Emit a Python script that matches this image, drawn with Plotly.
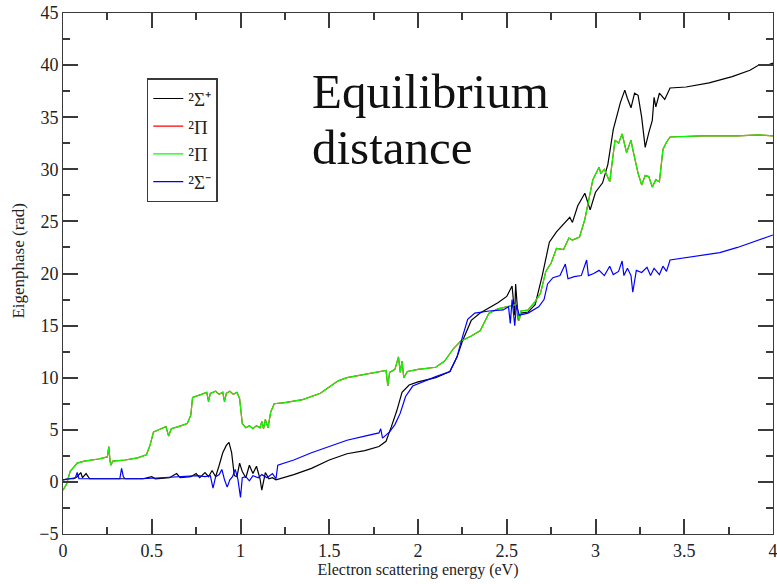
import plotly.graph_objects as go

# Eigenphase sums (rad) versus electron scattering energy (eV) for each symmetry

# 2Sigma+ symmetry
sig_plus_e = [0.00, 0.03, 0.06, 0.08, 0.10, 0.11, 0.13, 0.15, 0.20, 0.30, 0.40, 0.45, 0.50, 0.52,
              0.60, 0.64, 0.66, 0.72, 0.75, 0.77, 0.80, 0.82, 0.84, 0.86, 0.88, 0.90, 0.92, 0.935,
              0.95, 0.965, 0.98, 0.995, 1.01, 1.03, 1.05, 1.07, 1.09, 1.11, 1.12, 1.14, 1.16, 1.18,
              1.20, 1.30, 1.40, 1.50, 1.60, 1.70, 1.78, 1.82, 1.85, 1.88, 1.91, 1.95, 2.00, 2.10,
              2.18, 2.22, 2.25, 2.30, 2.35, 2.40, 2.45, 2.50, 2.53, 2.545, 2.55, 2.565, 2.58, 2.62,
              2.66, 2.70, 2.74, 2.78, 2.82, 2.855, 2.87, 2.90, 2.94, 2.97, 3.00, 3.04, 3.07, 3.10,
              3.14, 3.165, 3.18, 3.20, 3.22, 3.24, 3.26, 3.28, 3.30, 3.32, 3.33, 3.34, 3.36, 3.39,
              3.42, 3.51, 3.64, 3.77, 3.87, 3.92, 3.97, 4.00]
sig_plus_phase = [0.2, 0.3, 0.3, 0.5, 0.9, 0.4, 0.8, 0.3, 0.3, 0.3, 0.3, 0.3, 0.5, 0.3,
                  0.4, 0.8, 0.4, 0.5, 0.8, 0.4, 0.9, 0.5, 1.1, 0.5, 1.6, 2.8, 3.5, 3.8,
                  2.8, 0.6, 0.5, 1.8, 1.0, 0.4, 1.6, 0.8, 1.5, 0.3, -0.8, 0.9, 0.3, 0.4,
                  0.2, 0.7, 1.3, 2.1, 2.7, 3.0, 3.4, 3.9, 5.3, 6.8, 8.6, 9.3, 9.6, 10.0,
                  10.6, 12.0, 13.5, 15.5, 16.2, 16.7, 17.2, 17.8, 18.8, 16.0, 19.0, 15.5, 16.2, 16.3,
                  17.0, 19.8, 23.0, 24.0, 24.8, 25.4, 24.9, 26.5, 27.7, 26.1, 27.8, 28.7, 30.5, 33.8,
                  36.4, 37.6, 36.8, 35.9, 37.3, 37.1, 35.0, 32.1, 33.5, 34.7, 36.9, 36.0, 37.3, 36.7,
                  37.8, 37.9, 38.3, 38.9, 39.5, 40.0, 40.0, 40.2]

# 2Pi symmetry (both components coincide over the whole range)
pi_e = [0.00, 0.02, 0.04, 0.06, 0.08, 0.12, 0.20, 0.25, 0.258, 0.265, 0.27, 0.28, 0.35, 0.42,
        0.47, 0.49, 0.51, 0.54, 0.58, 0.595, 0.61, 0.65, 0.70, 0.72, 0.73, 0.78, 0.81, 0.82,
        0.83, 0.86, 0.88, 0.90, 0.91, 0.92, 0.94, 0.96, 0.98, 0.995, 1.01, 1.03, 1.05, 1.07,
        1.09, 1.11, 1.12, 1.13, 1.14, 1.155, 1.17, 1.19, 1.25, 1.35, 1.45, 1.50, 1.55, 1.60,
        1.70, 1.80, 1.82, 1.83, 1.84, 1.87, 1.89, 1.90, 1.91, 1.92, 1.94, 2.00, 2.10, 2.15,
        2.20, 2.24, 2.30, 2.35, 2.40, 2.45, 2.50, 2.55, 2.56, 2.57, 2.58, 2.62, 2.66, 2.69,
        2.72, 2.75, 2.78, 2.82, 2.85, 2.87, 2.91, 2.94, 2.985, 3.02, 3.03, 3.05, 3.08, 3.11,
        3.13, 3.15, 3.175, 3.20, 3.21, 3.24, 3.26, 3.28, 3.30, 3.32, 3.34, 3.36, 3.38, 3.40,
        3.42, 3.60, 3.80, 3.92, 4.00]
pi_phase_1 = [-0.8, -0.2, 1.0, 1.4, 1.8, 2.0, 2.2, 2.4, 3.4, 2.0, 1.6, 2.0, 2.1, 2.3,
              2.6, 3.5, 4.8, 5.0, 5.3, 4.4, 5.1, 5.3, 5.6, 6.4, 8.1, 8.4, 8.6, 7.7,
              8.5, 8.7, 8.4, 8.6, 7.7, 8.5, 8.7, 8.4, 8.6, 8.0, 5.6, 5.2, 5.4, 5.1,
              5.4, 5.2, 5.8, 5.1, 6.0, 5.2, 6.7, 7.5, 7.6, 7.9, 8.5, 9.1, 9.7, 10.0,
              10.3, 10.6, 10.7, 9.2, 10.5, 10.8, 12.0, 10.5, 11.6, 10.0, 10.6, 10.8, 11.0, 11.6,
              12.8, 13.5, 14.0, 14.5, 16.2, 16.6, 16.8, 17.0, 16.5, 15.5, 16.4, 16.5, 17.3, 18.1,
              20.2, 21.0, 22.4, 22.3, 23.4, 23.2, 23.5, 25.2, 29.0, 30.2, 29.6, 30.0, 28.8, 32.8,
              32.5, 33.4, 31.6, 32.8, 31.9, 29.6, 28.5, 29.4, 29.3, 28.3, 29.0, 28.8, 31.9, 32.6,
              33.1, 33.2, 33.2, 33.3, 33.2]
pi_phase_2 = list(pi_phase_1)

# 2Sigma- symmetry
sig_minus_e = [0.00, 0.05, 0.07, 0.08, 0.09, 0.15, 0.25, 0.32, 0.33, 0.34, 0.35, 0.45, 0.55, 0.65,
               0.70, 0.76, 0.80, 0.83, 0.845, 0.86, 0.88, 0.895, 0.91, 0.925, 0.94, 0.955, 0.97,
               0.985, 1.00, 1.01, 1.03, 1.05, 1.07, 1.10, 1.12, 1.15, 1.18, 1.20, 1.21, 1.30, 1.40,
               1.50, 1.60, 1.70, 1.78, 1.79, 1.80, 1.84, 1.87, 1.90, 1.93, 1.97, 2.01, 2.10, 2.18,
               2.22, 2.25, 2.28, 2.32, 2.40, 2.48, 2.51, 2.52, 2.53, 2.545, 2.555, 2.57, 2.62, 2.68,
               2.71, 2.73, 2.76, 2.80, 2.83, 2.845, 2.88, 2.92, 2.95, 2.96, 2.99, 3.02, 3.05, 3.08,
               3.10, 3.13, 3.15, 3.16, 3.18, 3.20, 3.21, 3.23, 3.26, 3.29, 3.31, 3.33, 3.36, 3.38,
               3.40, 3.42, 3.50, 3.60, 3.70, 3.80, 3.90, 4.00]
sig_minus_phase = [0.2, 0.3, 0.4, 0.9, 0.3, 0.3, 0.3, 0.3, 1.3, 0.5, 0.3, 0.3, 0.4, 0.5,
                   0.5, 0.6, 0.5, 0.6, -0.6, 0.5, 0.7, 1.2, 0.2, -0.5, 0.2, 0.5, 1.2,
                   0.3, -1.5, 0.4, 0.5, 0.1, 0.6, 0.4, 0.7, 0.4, 0.8, 0.3, 1.6, 2.1, 2.8,
                   3.4, 4.0, 4.4, 4.7, 5.1, 4.2, 4.8, 5.5, 6.6, 8.2, 9.2, 9.5, 10.1, 10.6,
                   12.0, 13.9, 15.6, 16.2, 16.4, 16.5, 16.8, 15.2, 17.5, 15.0, 17.0, 16.0, 16.2, 16.8,
                   17.5, 19.0, 19.6, 19.8, 20.9, 19.5, 19.7, 19.8, 21.3, 19.8, 20.0, 20.3, 19.8, 20.7,
                   19.9, 20.2, 21.2, 19.8, 20.5, 19.8, 18.2, 20.3, 20.1, 20.6, 19.8, 20.5, 19.9, 20.7,
                   20.2, 21.3, 21.5, 21.7, 22.0, 22.5, 23.1, 23.7]

x_range = [0, 4]
y_range = [-5, 45]

SERIF = "Liberation Serif"
AXIS_COLOR = "#3a3a3a"
TEXT_COLOR = "#222222"

fig = go.Figure()
series = [
    (sig_plus_e, sig_plus_phase, "²Σ⁺", "#000000"),
    (pi_e, pi_phase_1, "²Π", "#ff0000"),
    (pi_e, pi_phase_2, "²Π", "#00ff00"),
    (sig_minus_e, sig_minus_phase, "²Σ⁻", "#0000ff"),
]
for xe, yp, name, color in series:
    fig.add_trace(go.Scatter(x=xe, y=yp, mode="lines", name=name,
                             line=dict(color=color, width=1.2)))

fig.update_layout(
    width=777, height=584,
    margin=dict(l=63, r=4, t=13, b=50),
    plot_bgcolor="white",
    font=dict(family=SERIF, color=TEXT_COLOR, size=17),
    xaxis=dict(
        range=x_range, dtick=0.5, showline=True, linecolor=AXIS_COLOR,
        mirror="ticks", ticks="inside", ticklen=15, tickwidth=2, tickcolor=AXIS_COLOR,
        showgrid=False, automargin=False, ticklabeloverflow="allow",
        minor=dict(dtick=0.25, ticks="inside", ticklen=7, tickwidth=2, tickcolor=AXIS_COLOR),
        tickfont=dict(family=SERIF, size=18, color=TEXT_COLOR),
        title=dict(text="Electron scattering energy (eV)", font=dict(size=16), standoff=2),
    ),
    yaxis=dict(
        range=y_range, dtick=5, showline=True, linecolor=AXIS_COLOR,
        mirror="ticks", ticks="inside", ticklen=15, tickwidth=2, tickcolor=AXIS_COLOR,
        showgrid=False, zeroline=False, automargin=False, ticklabeloverflow="allow",
        minor=dict(dtick=2.5, ticks="inside", ticklen=7, tickwidth=2, tickcolor=AXIS_COLOR),
        tickfont=dict(family=SERIF, size=18, color=TEXT_COLOR),
    ),
    legend=dict(x=0.118, y=0.875, xanchor="left", yanchor="top",
                bgcolor="white", bordercolor=AXIS_COLOR, borderwidth=1.5,
                font=dict(size=19)),
)

# vertical axis title placed as an annotation
fig.add_annotation(text="Eigenphase (rad)", xref="paper", yref="paper",
                   x=-0.0625, y=0.524, xanchor="center", yanchor="middle",
                   textangle=-90, showarrow=False, font=dict(size=17))

fig.add_annotation(text="Equilibrium", xref="paper", yref="paper", x=0.3475, y=0.85,
                   xanchor="left", yanchor="middle", showarrow=False,
                   font=dict(size=49, color="#111111"))
fig.add_annotation(text="distance", xref="paper", yref="paper", x=0.3475, y=0.741,
                   xanchor="left", yanchor="middle", showarrow=False,
                   font=dict(size=49, color="#111111"))

fig.write_html("out.html")
